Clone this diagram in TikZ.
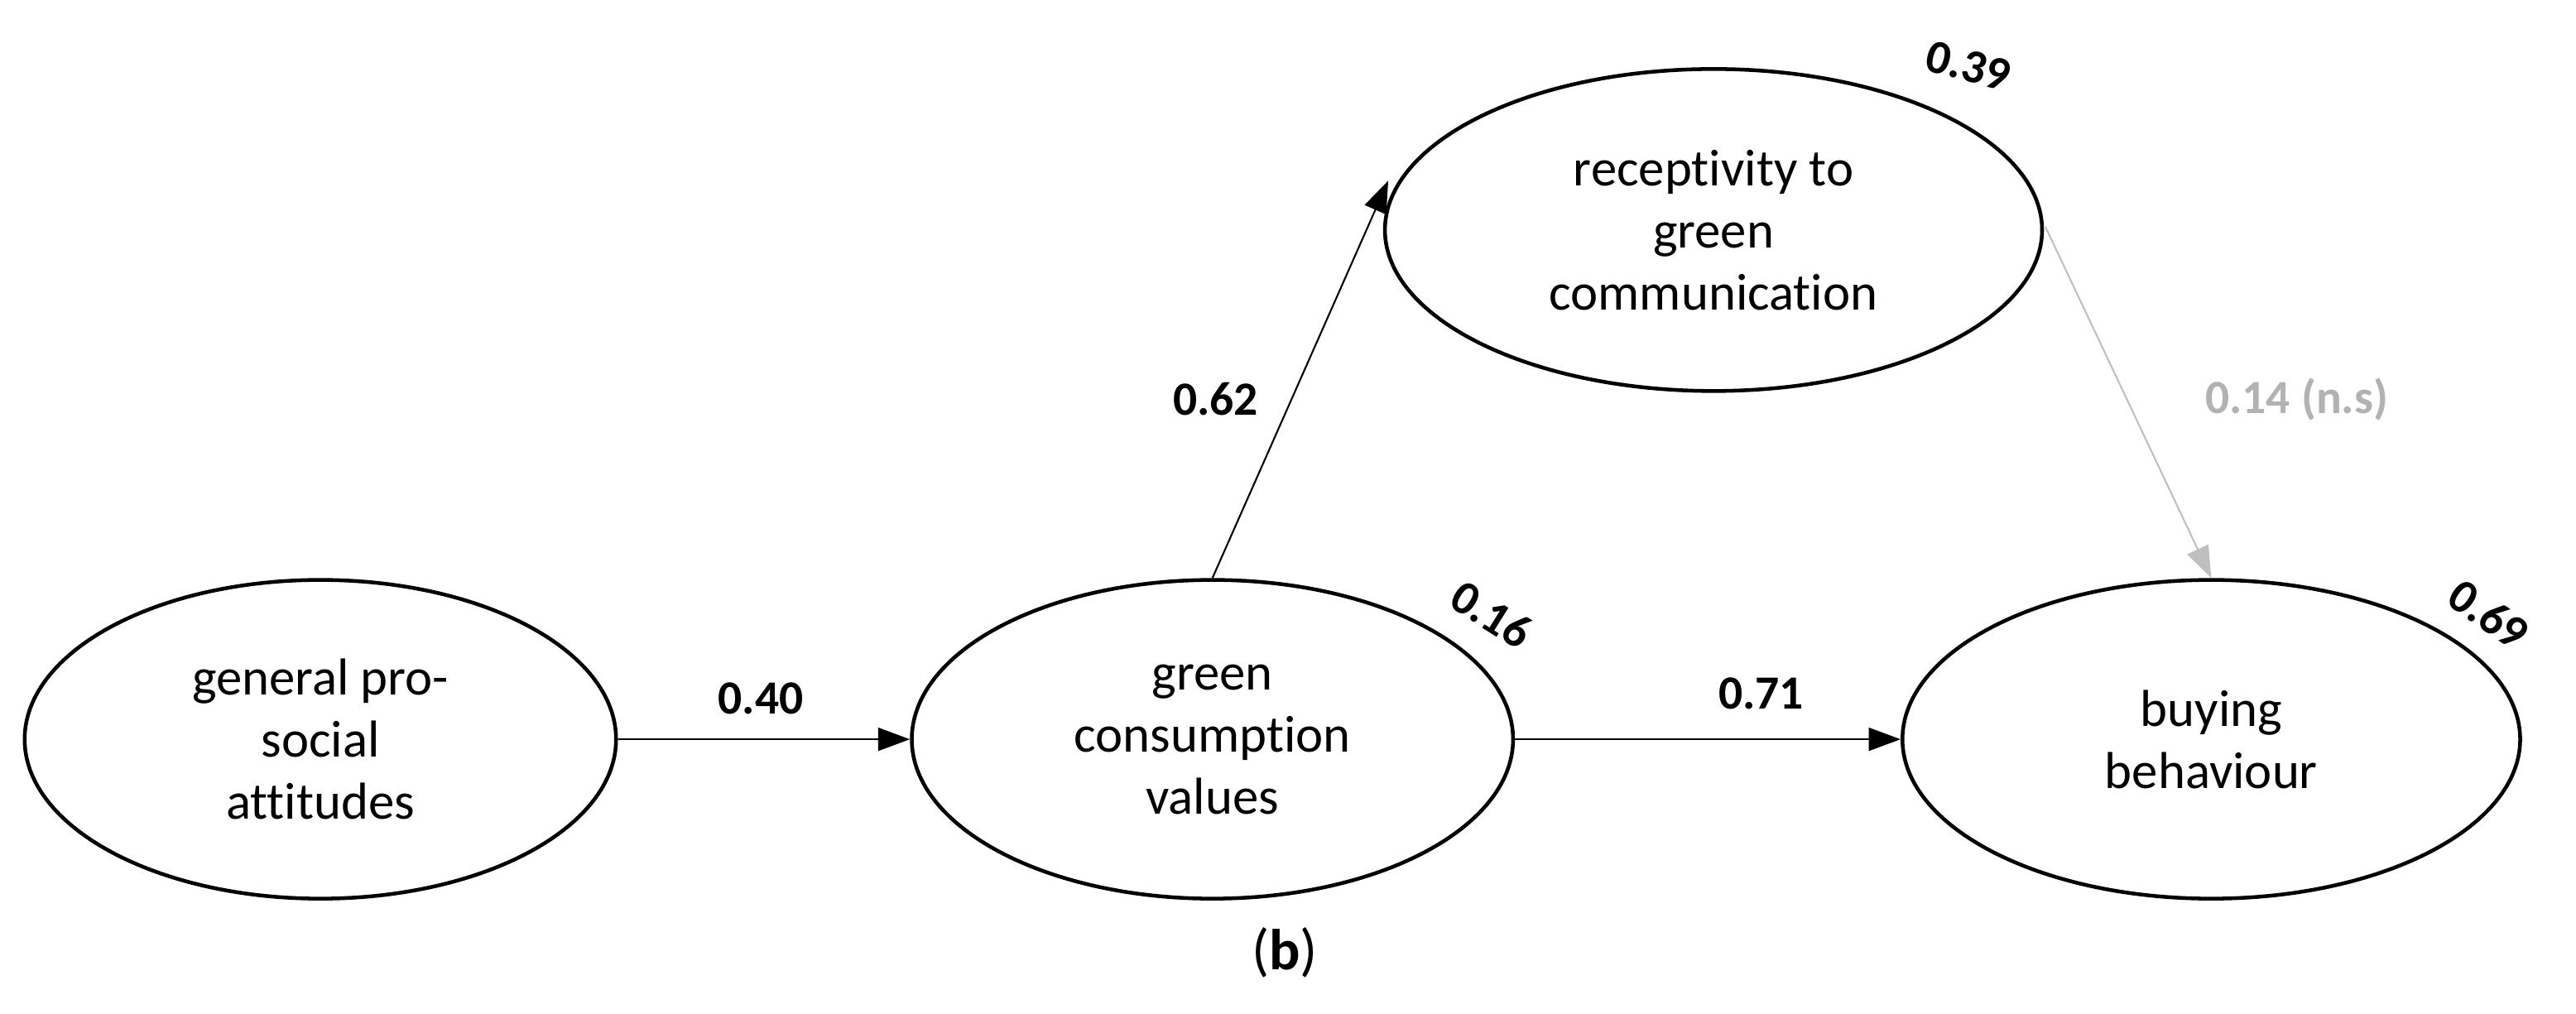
\documentclass[tikz,border=0pt]{standalone}
\usepackage{fontspec}
\setmainfont{Carlito}[Ligatures={NoCommon}]
\usetikzlibrary{shapes.geometric,arrows.meta}
\begin{document}
\begin{tikzpicture}[x=0.2mm,y=-0.2mm,
  ell/.style={draw,line width=1.3pt,ellipse,inner sep=0pt,align=center,font=\fontsize{18}{21.5}\selectfont},
  conn/.style={line width=0.6pt,-{Triangle[length=11pt,width=8pt]}},
  coef/.style={font=\fontsize{16.5}{19}\selectfont\bfseries}]
\useasboundingbox (0,0) rectangle (1568,617);
\node[ell,minimum width=72mm,minimum height=38.8mm] (a) at (195,450) {general pro-\\social\\attitudes};
\node[ell,minimum width=73.2mm,minimum height=38.8mm] (b) at (738,450) {green\\consumption\\values};
\node[ell,minimum width=80mm,minimum height=39.2mm] (c) at (1043,140) {receptivity to\\green\\communication};
\node[ell,minimum width=75.2mm,minimum height=38.8mm] (d) at (1346,450) {buying\\behaviour};
\draw[conn] (a.east) -- (b.west);
\draw[conn] (b.east) -- (d.west);
\draw[conn] (b.north) -- (845,110);
\draw[conn,draw=black!25,fill=black!25] (1245,138) -- (d.north);
\node[coef] (l1) at (463,425) {0.40};
\node[coef] (l2) at (1072,422) {0.71};
\node[coef] (l3) at (740,243) {0.62};
\node[coef,text=black!30] (l4) at (1398,243) {0.14 (n.s)};
\node[coef,rotate=-15] (l5) at (1198,40) {0.39};
\node[coef,rotate=-32] (l6) at (908,374) {0.16};
\node[coef,rotate=-35] (l7) at (1515,374) {0.69};
\node[font=\fontsize{20}{24}\selectfont] (cap) at (782,580) {(\textbf{b})};
\end{tikzpicture}
\end{document}
